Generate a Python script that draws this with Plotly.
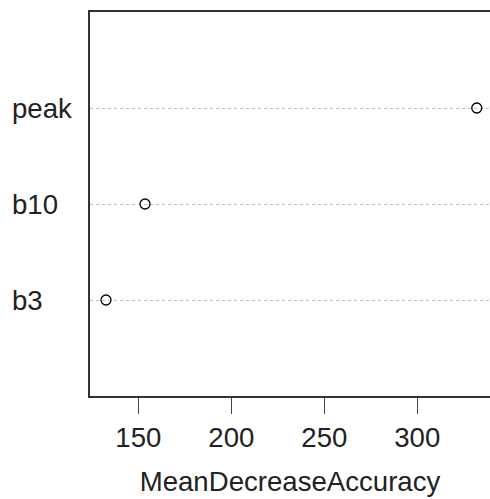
import plotly.graph_objects as go

labels = ["b3", "b10", "peak"]
values = [132.6, 153.6, 332.0]
positions = [1, 2, 3]
x_ticks = [150, 200, 250, 300]
x_title = "MeanDecreaseAccuracy"

W, H = 490, 499
ML, MR, MT, MB = 90, 0, 12, 103
FONT = "Liberation Sans, Arial, sans-serif"
FS = 27.6

fig = go.Figure()
fig.add_trace(go.Scatter(
    x=values, y=positions, mode="markers",
    marker=dict(symbol="circle-open", size=10, color="black", line=dict(width=1.3, color="black")),
    showlegend=False, hoverinfo="skip",
))

for lab, pos in zip(labels, positions):
    fig.add_annotation(
        text=lab, x=(10 - ML) / (W - ML - MR), xref="paper", y=pos, yref="y",
        xanchor="left", yanchor="middle", showarrow=False,
        font=dict(family=FONT, size=FS, color="#222"),
    )

fig.update_layout(
    width=W, height=H,
    margin=dict(l=ML, r=MR, t=MT, b=MB),
    paper_bgcolor="white", plot_bgcolor="white",
    font=dict(family=FONT, size=FS, color="#222"),
    xaxis=dict(
        range=[124.0, 339.1], tickvals=x_ticks, ticks="outside", ticklen=16, tickwidth=1.3,
        tickcolor="#444", showline=True, linecolor="#333", linewidth=1.6, mirror=True,
        showgrid=False, zeroline=False,
        title=dict(text=x_title, standoff=20, font=dict(family=FONT, size=FS, color="#222")),
        tickfont=dict(family=FONT, size=FS, color="#222"),
    ),
    yaxis=dict(
        range=[0, 4], tickvals=positions, showticklabels=False, ticks="",
        showline=True, linecolor="#333", linewidth=1.6, mirror=False,
        showgrid=True, gridcolor="#bebebe", griddash="dot", gridwidth=1,
        zeroline=False,
    ),
)

fig.write_html("out.html")
